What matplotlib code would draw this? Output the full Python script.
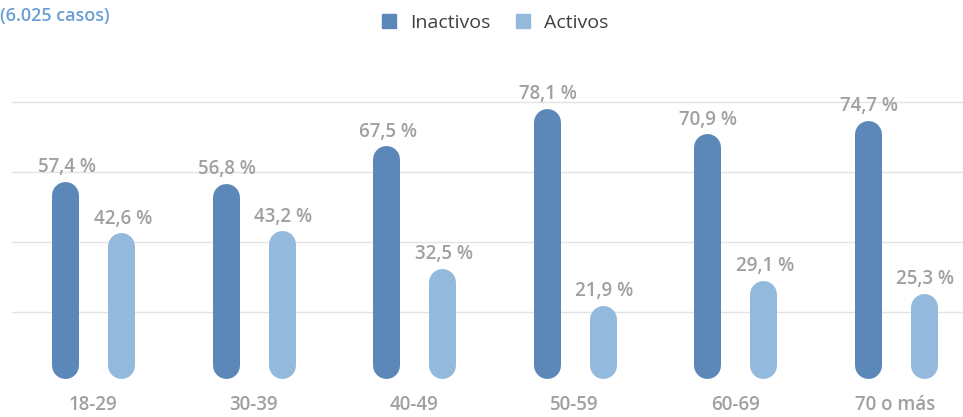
import numpy as np
import matplotlib.pyplot as plt
from matplotlib.patches import Patch

# datos
categorias = ['18-29', '30-39', '40-49', '50-59', '60-69', '70 o más']
inactivos = [57.4, 56.8, 67.5, 78.1, 70.9, 74.7]
activos = [42.6, 43.2, 32.5, 21.9, 29.1, 25.3]
series = ['Inactivos', 'Activos']
nota = '(6.025 casos)'

c_inact = '#5b87b9'
c_act = '#93b9dc'
c_txt = '#a0a0a0'

plt.rcParams['font.family'] = ['Open Sans', 'DejaVu Sans']

fig = plt.figure(figsize=(9.63, 4.17), dpi=100)
ax = fig.add_axes([12/963, 35/417, 951/963, 350/417])
ax.set_xlim(-0.507, 5.42)
ax.set_ylim(0, 100)

x = np.arange(len(categorias))
dx = 0.175
ancho_px = 27
lw = ancho_px * 72 / fig.dpi
# radio del extremo redondeado en unidades de datos
r = (ancho_px / 2) / (350 / 100)

for xs, vals, col in [(x - dx, inactivos, c_inact), (x + dx, activos, c_act)]:
    for xi, v in zip(xs, vals):
        ax.plot([xi, xi], [r + 1, v - r], color=col, lw=lw,
                solid_capstyle='round', zorder=3)
        ax.annotate(f'{v:.1f} %'.replace('.', ','), xy=(xi, v),
                    xytext=(1, 3), textcoords='offset points',
                    ha='center', va='bottom', fontsize=13.5,
                    color=c_txt, fontweight='semibold')

# rejilla
for g in [20, 40, 60, 80]:
    ax.axhline(g, color='#e3e3e3', lw=1, zorder=1)

ax.set_xticks(x)
ax.set_xticklabels(categorias, fontsize=13.5, color=c_txt, fontweight='semibold')
ax.tick_params(axis='x', length=0, pad=9)
ax.set_yticks([])
for s in ax.spines.values():
    s.set_visible(False)

fig.text(0, 1 - 16/417, nota, color='#6a9fd2', fontsize=13,
         fontweight='semibold', va='center', ha='left')

handles = [Patch(color=c_inact), Patch(color=c_act)]
fig.legend(handles, series, loc='center', bbox_to_anchor=(0.514, 0.945),
           ncol=2, frameon=False, fontsize=14, handlelength=0.75,
           handleheight=0.75, columnspacing=1.3, handletextpad=0.7,
           labelcolor='#404040')

fig.savefig('out.png', dpi=100)
